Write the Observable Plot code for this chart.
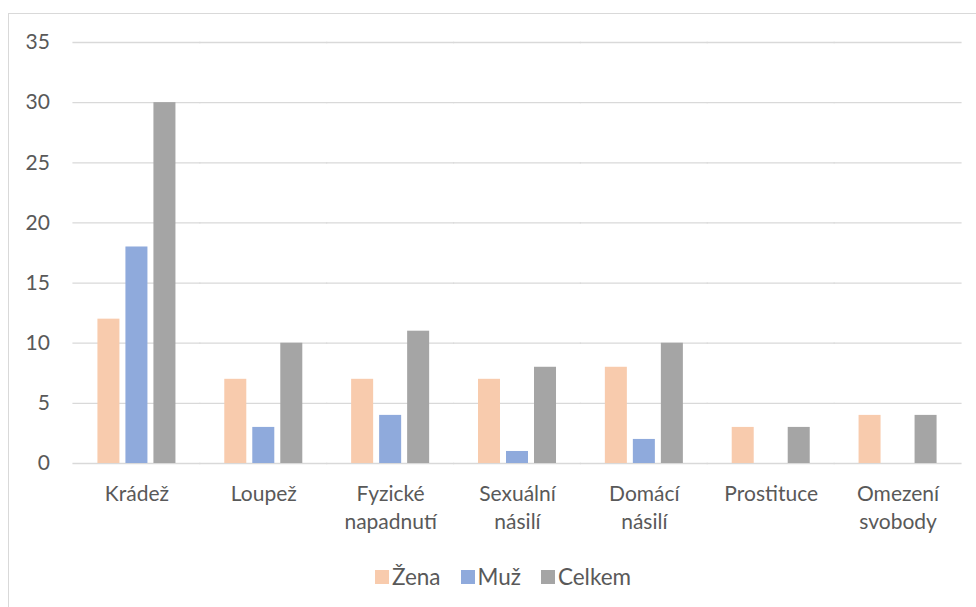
<!DOCTYPE html>
<html><head><meta charset="utf-8">
<script src="https://cdn.jsdelivr.net/npm/d3@7"></script>
<script src="https://cdn.jsdelivr.net/npm/@observablehq/plot@0.6"></script>
<style>
html,body{margin:0;padding:0;background:#fff;width:976px;height:607px;overflow:hidden;font-family:Lato,sans-serif;}
#frame{position:absolute;left:8px;top:13px;width:1000px;height:700px;border:1px solid #d9d9d9;box-sizing:border-box;}
#chart{position:absolute;left:0;top:0;}
#legend{position:absolute;top:563px;left:15px;width:976px;display:flex;justify-content:center;align-items:center;gap:20px;font-size:22.5px;color:#595959;}
.item{display:flex;align-items:center;gap:3px;}
.sw{width:14px;height:14px;display:inline-block;}
</style></head>
<body>
<div id="frame"></div>
<div id="chart"></div>
<div id="legend"></div>
<script>
const categories = ["Krádež","Loupež","Fyzické napadnutí","Sexuální násilí","Domácí násilí","Prostituce","Omezení svobody"];
const series = ["Žena","Muž","Celkem"];
const zena = [12,7,7,7,8,3,4];
const muz = [18,3,4,1,2,0,0];
const celkem = [30,10,11,8,10,3,4];
const yTicks = [0,5,10,15,20,25,30,35];
const colors = ["#F8CBAD","#8FAADC","#A5A5A5"];

const values = [zena, muz, celkem];
const data = categories.flatMap((c,i)=>series.map((s,j)=>({cat:c, s, v:values[j][i]})));

const H = 545;
const chart = Plot.plot({
  width: 976, height: H,
  marginTop: 42, marginBottom: H-463, marginLeft: 73, marginRight: 15,
  style: {fontFamily: "Lato, sans-serif", fontSize: "21px", color: "#595959", background: "transparent"},
  fx: {domain: categories, paddingInner: 0.385, paddingOuter: 0.1925, round: false, label: null, axis: null},
  x: {domain: series, paddingInner: 0.214, paddingOuter: 0, round: false, axis: null},
  y: {domain: [0,35], axis: null},
  color: {domain: series, range: colors},
  marks: [
    Plot.ruleY(yTicks, {stroke: "#d9d9d9", strokeWidth: 1.3, insetLeft: -25, insetRight: -25}),
    Plot.axisY(yTicks, {tickSize: 0, tickPadding: 48, fontSize: 21, fill: "#595959", label: null}),
    Plot.barY(data, {fx: "cat", x: "s", y: "v", fill: "s"}),
    Plot.axisFx({anchor: "bottom", tickSize: 0, tickPadding: 18, lineHeight: 1.33, fontSize: 21, fill: "#595959", label: null,
      tickFormat: d => d.replace(" ", "\n")})
  ]
});
document.getElementById("chart").appendChild(chart);

const lg = document.getElementById("legend");
series.forEach((s,i)=>{
  const it = document.createElement("div"); it.className="item";
  const sw = document.createElement("span"); sw.className="sw"; sw.style.background=colors[i];
  const t = document.createElement("span"); t.textContent = s;
  it.appendChild(sw); it.appendChild(t); lg.appendChild(it);
});
</script>
</body></html>
